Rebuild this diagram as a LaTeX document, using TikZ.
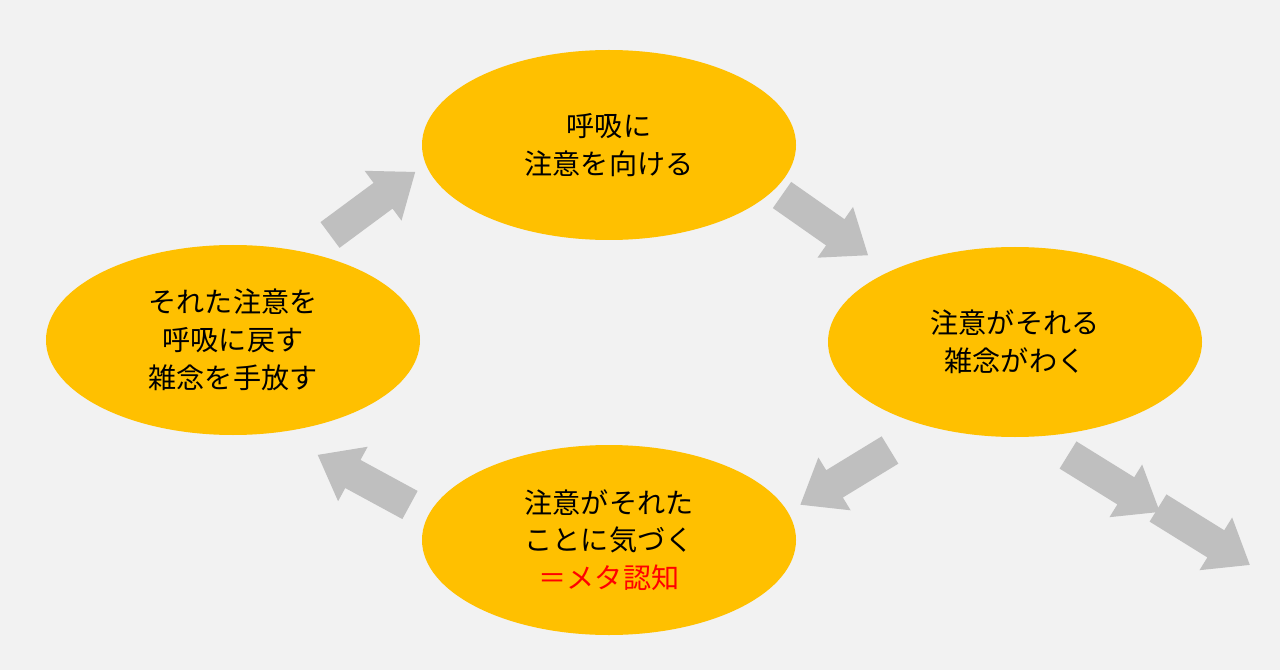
\documentclass[tikz,border=0pt]{standalone}
\usepackage{fontspec}
\newfontfamily\cjk{Noto Sans CJK JP}
\definecolor{bgGray}{HTML}{F2F2F2}
\definecolor{gold}{HTML}{FFC000}
\definecolor{arrowGray}{HTML}{BFBFBF}
\usetikzlibrary{shapes.geometric}
\tikzset{
  phase/.style={ellipse, fill=gold, minimum width=374*0.02cm, minimum height=190*0.02cm,
    inner sep=0pt, align=center, font=\cjk\fontsize{16}{21.5}\selectfont},
}
% block arrow: start point, angle, length
\newcommand{\blockarr}[3]{%
  \begin{scope}[shift={#1}, rotate=#2]
    \fill[arrowGray] (0,-16)--(#3-40,-16)--(#3-40,-31)--(#3,0)--(#3-40,31)--(#3-40,16)--(0,16)--cycle;
  \end{scope}}
\begin{document}
\begin{tikzpicture}[x=0.02cm,y=0.02cm]
  \fill[bgGray] (0,0) rectangle (1280,670);
  \useasboundingbox (0,0) rectangle (1280,670);

  \node[phase] (breath) at (609,525) {呼吸に\\注意を向ける};
  \node[phase] (drift) at (1015,328) {注意がそれる\\雑念がわく};
  \node[phase] (notice) at (609,130) {注意がそれた\\ことに気づく\\\textcolor{red}{＝メタ認知}};
  \node[phase] (return) at (233,330) {それた注意を\\呼吸に戻す\\雑念を手放す};

  \blockarr{(330,435)}{36.5}{106}
  \blockarr{(782,475)}{-35}{105}
  \blockarr{(890,220)}{211.4}{105}
  \blockarr{(410,165)}{151.5}{105}
  \blockarr{(1068,215)}{-31.8}{108}
  \blockarr{(1158,162)}{-31.8}{108}
\end{tikzpicture}
\end{document}
